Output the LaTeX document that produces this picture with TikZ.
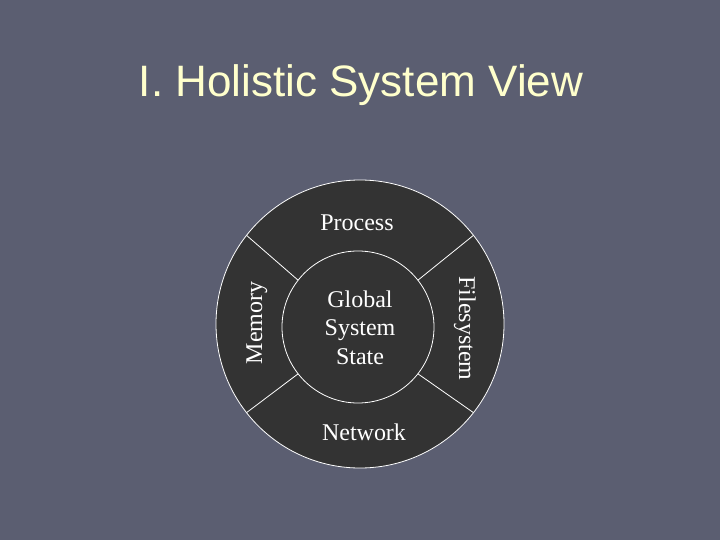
\documentclass[tikz,border=0pt]{standalone}
\usepackage{fontspec}
\setmainfont{Liberation Serif}
\newfontfamily\titlefont{Liberation Sans}
\definecolor{slidebg}{HTML}{5B5E71}
\definecolor{ringfill}{HTML}{333333}
\definecolor{titlecream}{HTML}{FFFFCC}
\tikzset{
  ring/.style={circle, draw=white, fill=ringfill, line width=0.8pt, inner sep=0pt, outer sep=0pt},
  part/.style={text=white, font=\fontsize{24}{28.5}\selectfont, anchor=base},
  divider/.style={draw=white, line width=0.8pt}
}
\begin{document}
\begin{tikzpicture}[x=1pt, y=-1pt]
\fill[slidebg] (0,0) rectangle (720,540);
\useasboundingbox (0,0) rectangle (720,540);

\node[anchor=base, text=titlecream, font=\titlefont\fontsize{44}{50}\selectfont] (title) at (361,97) {I. Holistic System View};

\node[ring, minimum size=288pt] (outer) at (360,324) {};
\node[ring, minimum size=152pt] (inner) at (358,327) {};

\draw[divider] (outer.142) -- (inner.142);
\draw[divider] (outer.38) -- (inner.38);
\draw[divider] (outer.218) -- (inner.218);
\draw[divider] (outer.322) -- (inner.322);

\node[part] (process) at (357,230.7) {Process};
\node[part] (network) at (364,440.7) {Network};
\node[part, rotate=90] (memory) at (262,323) {Memory};
\node[part, rotate=-90] (filesystem) at (459,328.5) {Filesystem};
\node[part, align=center] (state) at (360,364) {Global\\System\\State};
\end{tikzpicture}
\end{document}
